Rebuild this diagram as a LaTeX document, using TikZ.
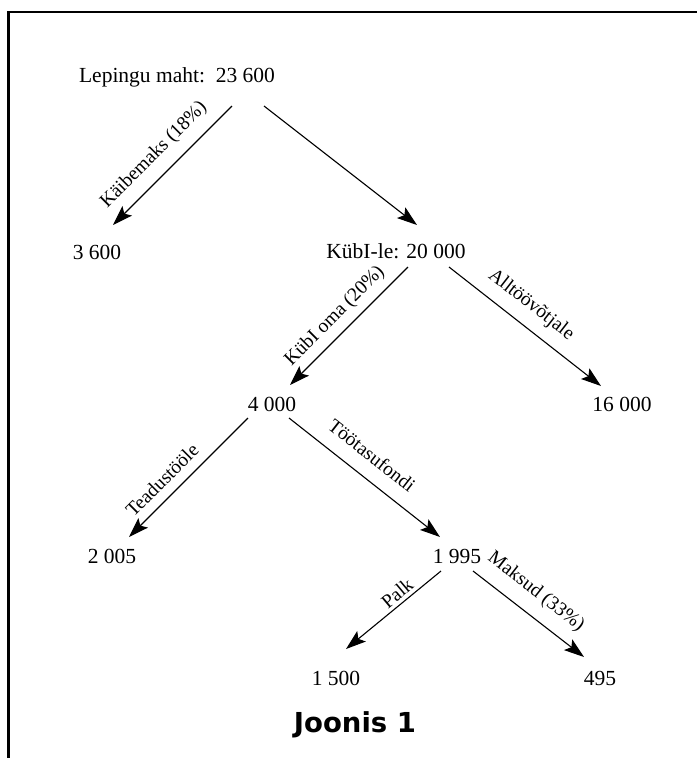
\documentclass[tikz,border=0pt]{standalone}
\usepackage{fontspec}
\setmainfont{Liberation Serif}
\newfontfamily\joonisfont{DejaVu Sans}
\usetikzlibrary{arrows.meta}
\begin{document}
\begin{tikzpicture}[x=1pt,y=-1pt,
  num/.style={anchor=base,inner sep=0pt,font=\fontsize{21.5}{24}\selectfont},
  lbl/.style={inner sep=0pt,font=\fontsize{19.5}{22}\selectfont},
  arr/.style={line width=1.1pt,-{Stealth[length=20pt,width=13.5pt,inset=4pt]}},
  frame/.style={line width=2.4pt}]
\useasboundingbox (0,0) rectangle (697,758);
\draw[frame] (8.5,758) -- (8.5,12) -- (697,12);
% values
\node[num] (top) at (177,82) {Lepingu maht:~\ 23 600};
\node[num] (kaib) at (97,259) {3 600};
\node[num] (kubi) at (396,258) {KübI-le: 20 000};
\node[num] (allt) at (622,411) {16 000};
\node[num] (oma) at (272,411) {4 000};
\node[num] (tead) at (112,563) {2 005};
\node[num] (toot) at (457,563) {1 995};
\node[num] (palk) at (336,685) {1 500};
\node[num] (maks) at (600,685) {495};
\node[anchor=base,inner sep=0pt,font=\joonisfont\bfseries\fontsize{27.5}{30}\selectfont] (cap) at (355,732) {Joonis 1};
% arrow ends
\coordinate (a1s) at (232,106); \coordinate (a1e) at (113,225);
\coordinate (a2s) at (264,106); \coordinate (a2e) at (417,225);
\coordinate (a3s) at (408,267); \coordinate (a3e) at (290,385);
\coordinate (a4s) at (449,267); \coordinate (a4e) at (601,386);
\coordinate (a5s) at (248,418); \coordinate (a5e) at (129,537);
\coordinate (a6s) at (289,418); \coordinate (a6e) at (440,537);
\coordinate (a7s) at (441,571); \coordinate (a7e) at (346,649);
\coordinate (a8s) at (473,571); \coordinate (a8e) at (584,657);
\draw[arr] (a1s) -- (a1e);
\draw[arr] (a2s) -- (a2e);
\draw[arr] (a3s) -- (a3e);
\draw[arr] (a4s) -- (a4e);
\draw[arr] (a5s) -- (a5e);
\draw[arr] (a6s) -- (a6e);
\draw[arr] (a7s) -- (a7e);
\draw[arr] (a8s) -- (a8e);
% labels
\node[lbl,rotate=45] (l1) at (154,155) {Käibemaks (18\%)};
\node[lbl,rotate=45] (l3) at (335,316) {KübI oma (20\%)};
\node[lbl,rotate=-38] (l4) at (531,305) {Alltöövõtjale};
\node[lbl,rotate=45] (l5) at (162,480) {Teadustööle};
\node[lbl,rotate=-38] (l6) at (372,455) {Töötasufondi};
\node[lbl,rotate=40] (l7) at (397,593) {Palk};
\node[lbl,rotate=-38] (l8) at (536,592) {Maksud (33\%)};
\end{tikzpicture}
\end{document}
